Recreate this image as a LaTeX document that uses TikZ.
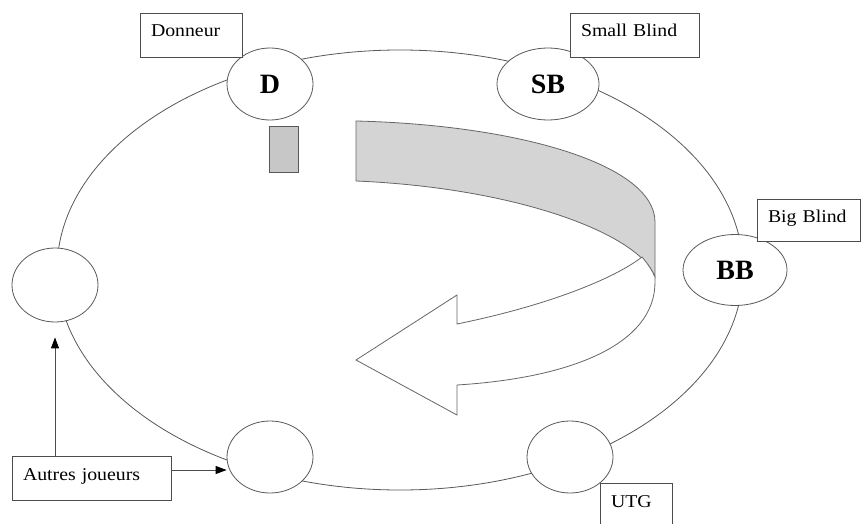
\documentclass[tikz,border=0pt]{standalone}
\usepackage{fontspec}
\setmainfont{Liberation Serif}
\newfontfamily\tagfont[FakeStretch=1.1]{Liberation Serif}
\usetikzlibrary{shapes.geometric,arrows.meta}
\begin{document}
\begin{tikzpicture}[x=1pt,y=-1pt,
  seat/.style={ellipse,draw=black!65,line width=0.8pt,fill=white,inner sep=0pt,
    minimum width=86pt,minimum height=72pt,font=\fontsize{28}{30}\selectfont\bfseries},
  tag/.style={rectangle,draw=black!70,line width=0.9pt,fill=white,inner xsep=11pt,inner ysep=0pt,
    align=left,minimum height=44pt,text height=12.5pt,text depth=8.5pt,font=\tagfont\fontsize{18}{20}\selectfont},
  band/.style={draw=black!60,line width=0.8pt,fill=black!17},
  front/.style={draw=black!60,line width=0.8pt,fill=white},
  pointer/.style={draw=black!70,line width=0.9pt,-{Triangle[length=11pt,width=8pt,color=black,fill=black]}}]
\useasboundingbox (0,0) rectangle (861,524);
\fill[white] (0,0) rectangle (861,524);
% table
\node[ellipse,draw=black!65,line width=0.8pt,minimum width=686pt,minimum height=440pt,inner sep=0pt] (table) at (400,270) {};
% dealer button
\node[rectangle,draw=black!65,line width=0.8pt,fill=black!22,minimum width=29pt,minimum height=46pt,inner sep=0pt] (button) at (283.5,149) {};
% ribbon arrow
\draw[band] (356,121) .. controls (520,125) and (655,165) .. (655,222) -- (655,277)
  .. controls (640,235) and (520,188) .. (356,181) -- cycle;
\draw[front] (457,324) .. controls (550,305) and (615,278) .. (642,257)
  .. controls (648,264) and (652,270) .. (655,277) -- (655,282)
  .. controls (655,345) and (570,378) .. (457,385) -- (457,415) -- (356,360) -- (457,295) -- cycle;
% seats
\node[seat] (D) at (270,84) {D};
\node[seat,minimum width=102pt] (SB) at (548,84) {SB};
\node[seat,minimum width=104pt,minimum height=71pt] (BB) at (735,270) {BB};
\node[seat,minimum height=74pt] (pl) at (55,285) {};
\node[seat] (bl) at (270,457) {};
\node[seat] (utg) at (570,457) {};
% tags
\node[tag,text width=80pt] (donneur) at (191,35) {Donneur};
\node[tag,text width=107pt] (small) at (634.5,35) {Small Blind};
\node[tag,text width=81pt,minimum height=42pt] (big) at (808.5,220) {Big Blind};
\node[tag,text width=50pt] (utgtag) at (636,505) {UTG};
\node[tag,text width=137pt] (autres) at (91.5,478) {Autres joueurs};
% pointers
\draw[pointer,shorten >=15pt] (autres.north -| pl.south) -- (pl.south);
\draw[pointer] ([yshift=8pt]autres.east) -- ([yshift=8pt]autres.east -| bl.west);
\end{tikzpicture}
\end{document}
